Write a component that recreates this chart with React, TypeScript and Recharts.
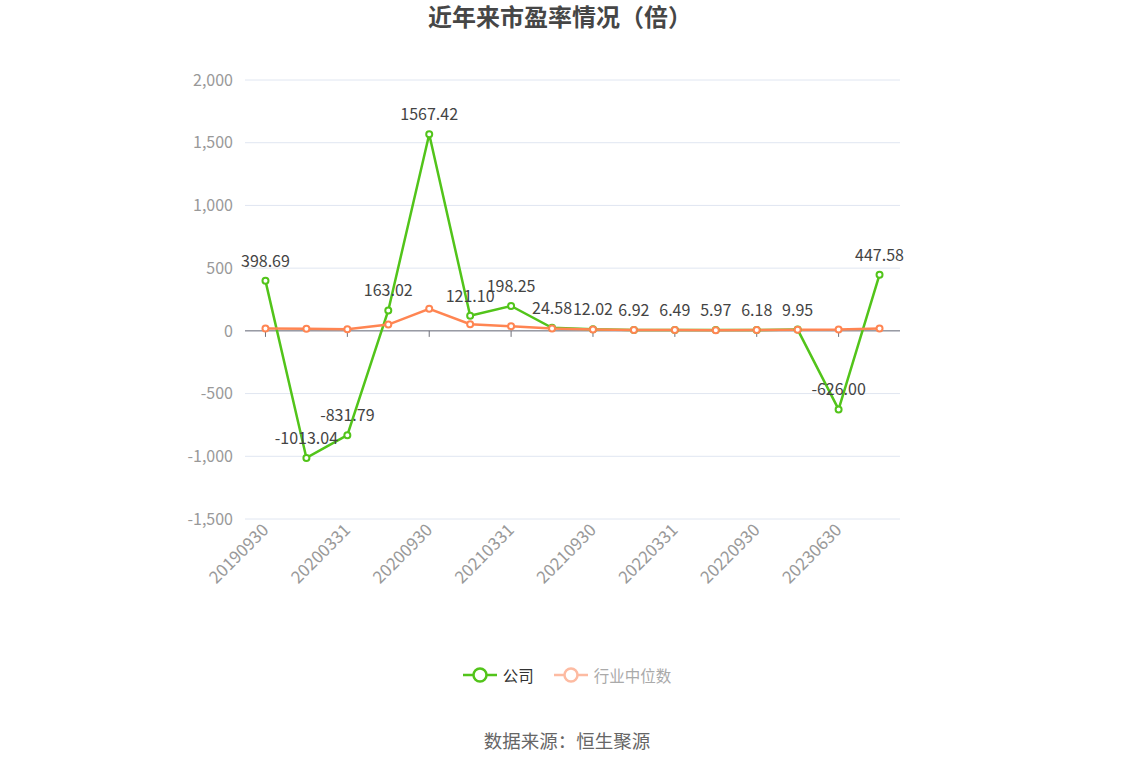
import React from 'react';
import { LineChart, Line, XAxis, YAxis, CartesianGrid, ReferenceLine, LabelList } from 'recharts';

const categories = ['20190930','20191231','20200331','20200630','20200930','20201231','20210331','20210630','20210930','20211231','20220331','20220630','20220930','20221231','20230630','20230930'];
const companyPE = [398.69, -1013.04, -831.79, 163.02, 1567.42, 121.10, 198.25, 24.58, 12.02, 6.92, 6.49, 5.97, 6.18, 9.95, -626.00, 447.58];
const industryPE = [19, 17, 13, 50, 176, 53, 37, 18, 11, 6, 6, 5, 6, 9, 10, 19];
const yTicks = [-1500, -1000, -500, 0, 500, 1000, 1500, 2000];

const GREEN = '#52c41a';
const ORANGE = '#ff8552';
const FONT = "'Noto Sans CJK SC', 'Noto Sans', sans-serif";

const data = categories.map((c, i) => ({ date: c, company: companyPE[i], industry: industryPE[i] }));
const labeledCats = categories.filter((_, i) => i % 2 === 0);

const makeDot = (color: string) => (props: any) => {
  const { cx, cy, index } = props;
  if (cx == null || cy == null) return <g key={index} />;
  return <circle key={index} cx={cx} cy={cy} r={3} fill="#fff" stroke={color} strokeWidth={2} />;
};

const XTick = (props: any) => {
  const { x, y, payload } = props;
  return (
    <text x={x} y={y} transform={`rotate(-45 ${x} ${y})`} textAnchor="end" dy="0.35em"
      fontSize={17} fill="#999" fontFamily={FONT}>{payload.value}</text>
  );
};

export default function App() {
  return (
    <div style={{ position: 'absolute', left: 0, top: 0, width: 1134, height: 766, background: '#fff', fontFamily: FONT }}>
      <div style={{ position: 'absolute', top: 1, left: 0, width: 1120, lineHeight: '30px', textAlign: 'center', fontSize: 24, fontWeight: 'bold', color: '#464646' }}>
        近年来市盈率情况（倍）
      </div>
      <LineChart width={1134} height={766} data={data} margin={{ top: 80, right: 234, bottom: 187, left: 185 }}>
        <CartesianGrid vertical={false} stroke="#e0e6f1" />
        <XAxis dataKey="date" scale="band" interval={1} axisLine={false} tickLine={false} height={60} tick={<XTick />} />
        <YAxis domain={[-1500, 2000]} ticks={yTicks} width={60} axisLine={false} tickLine={false} tickMargin={6}
          tickFormatter={(v: number) => v.toLocaleString('en-US')}
          tick={{ fontSize: 16, fill: '#999', fontFamily: FONT }} />
        <ReferenceLine y={0} stroke="#6e7079" strokeWidth={1} />
        {labeledCats.map((c) => (
          <ReferenceLine key={c} segment={[{ x: c, y: 0 }, { x: c, y: -48 }]} stroke="#6e7079" strokeWidth={1} />
        ))}
        <Line type="linear" dataKey="company" stroke={GREEN} strokeWidth={2.5} dot={makeDot(GREEN)} activeDot={false} isAnimationActive={false}>
          <LabelList dataKey="company" position="top" offset={14} fontSize={16} fill="#444" fontFamily={FONT}
            formatter={(v: any) => Number(v).toFixed(2)} />
        </Line>
        <Line type="linear" dataKey="industry" stroke={ORANGE} strokeWidth={2.5} dot={makeDot(ORANGE)} activeDot={false} isAnimationActive={false} />
      </LineChart>
      <div style={{ position: 'absolute', top: 664, left: 0, width: 1134, display: 'flex', justifyContent: 'center', alignItems: 'center', fontSize: 15.5 }}>
        <svg width={34} height={20} style={{ marginRight: 6 }}>
          <line x1={0} y1={10} x2={34} y2={10} stroke={GREEN} strokeWidth={2.5} />
          <circle cx={17} cy={10} r={6.5} fill="#fff" stroke={GREEN} strokeWidth={2.5} />
        </svg>
        <span style={{ color: '#333', marginRight: 20 }}>公司</span>
        <svg width={34} height={20} style={{ marginRight: 6 }}>
          <line x1={0} y1={10} x2={34} y2={10} stroke="#fdbba2" strokeWidth={2.5} />
          <circle cx={17} cy={10} r={6.5} fill="#fff" stroke="#fdbba2" strokeWidth={2.5} />
        </svg>
        <span style={{ color: '#aaa' }}>行业中位数</span>
      </div>
      <div style={{ position: 'absolute', top: 727, left: 0, width: 1134, textAlign: 'center', fontSize: 18.5, color: '#666' }}>
        数据来源：恒生聚源
      </div>
    </div>
  );
}
